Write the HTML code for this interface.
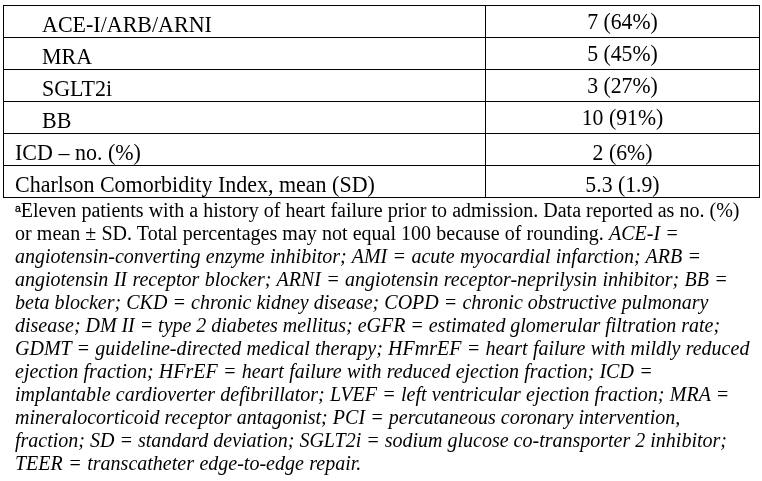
<!DOCTYPE html>
<html><head><meta charset="utf-8">
<style>
html,body{margin:0;padding:0;background:#fff;}
body{width:762px;height:481px;overflow:hidden;position:relative;font-family:"Liberation Serif",serif;color:#000;font-size:22px;}
.h,.v{position:absolute;background:#000;}
.h{left:3px;width:757px;height:1px;}
.v{top:5px;height:193px;width:1px;}
.c{position:absolute;white-space:nowrap;line-height:25px;height:25px;font-size:23px;transform:scaleX(0.9565);transform-origin:0 0;}
.l{left:15.3px;}
.i{left:42.2px;}
.r{left:486.4px;width:273px;text-align:center;transform-origin:50% 0;transform:scaleX(0.945);}
.fn{position:absolute;left:15px;top:198.5px;width:760px;line-height:23px;white-space:nowrap;font-size:20px;}
.fn div{height:23px;}
.fn i{font-style:italic;}
sup{font-size:10.5px;line-height:0;vertical-align:baseline;position:relative;top:-4.5px;font-family:"Liberation Sans",sans-serif;-webkit-text-stroke:0.3px #000;}
</style></head><body>
<div class="h" style="top:5px"></div>
<div class="h" style="top:37px"></div>
<div class="h" style="top:69px"></div>
<div class="h" style="top:101px"></div>
<div class="h" style="top:133px"></div>
<div class="h" style="top:165px"></div>
<div class="h" style="top:197px"></div>
<div class="v" style="left:3px"></div>
<div class="v" style="left:485px"></div>
<div class="v" style="left:759px"></div>
<div class="c i" style="top:12px">ACE-I/ARB/ARNI</div><div class="c r" style="top:9px">7 (64%)</div>
<div class="c i" style="top:44px">MRA</div><div class="c r" style="top:41px">5 (45%)</div>
<div class="c i" style="top:76px">SGLT2i</div><div class="c r" style="top:73px">3 (27%)</div>
<div class="c i" style="top:108px">BB</div><div class="c r" style="top:105px">10 (91%)</div>
<div class="c l" style="top:140px">ICD – no. (%)</div><div class="c r" style="top:140px">2 (6%)</div>
<div class="c l" style="top:172px">Charlson Comorbidity Index, mean (SD)</div><div class="c r" style="top:172px">5.3 (1.9)</div>
<div class="fn">
<div style="word-spacing:0.033px"><sup>a</sup>Eleven patients with a history of heart failure prior to admission. Data reported as no. (%)</div>
<div style="word-spacing:0.164px">or mean ± SD. Total percentages may not equal 100 because of rounding. <i>ACE-I =</i></div>
<div style="word-spacing:0.344px"><i>angiotensin-converting enzyme inhibitor; AMI = acute myocardial infarction; ARB =</i></div>
<div style="word-spacing:0.370px"><i>angiotensin II receptor blocker; ARNI = angiotensin receptor-neprilysin inhibitor; BB =</i></div>
<div style="word-spacing:0.082px"><i>beta blocker; CKD = chronic kidney disease; COPD = chronic obstructive pulmonary</i></div>
<div style="word-spacing:-0.092px"><i>disease; DM II = type 2 diabetes mellitus; eGFR = estimated glomerular filtration rate;</i></div>
<div style="word-spacing:0.264px"><i>GDMT = guideline-directed medical therapy; HFmrEF = heart failure with mildly reduced</i></div>
<div style="word-spacing:0.255px"><i>ejection fraction; HFrEF = heart failure with reduced ejection fraction; ICD =</i></div>
<div style="word-spacing:0.260px"><i>implantable cardioverter defibrillator; LVEF = left ventricular ejection fraction; MRA =</i></div>
<div style="word-spacing:0.100px"><i>mineralocorticoid receptor antagonist; PCI = percutaneous coronary intervention,</i></div>
<div><i>fraction; SD = standard deviation; SGLT2i = sodium glucose co-transporter 2 inhibitor;</i></div>
<div style="word-spacing:0.500px"><i>TEER = transcatheter edge-to-edge repair.</i></div>
</div>
</body></html>
